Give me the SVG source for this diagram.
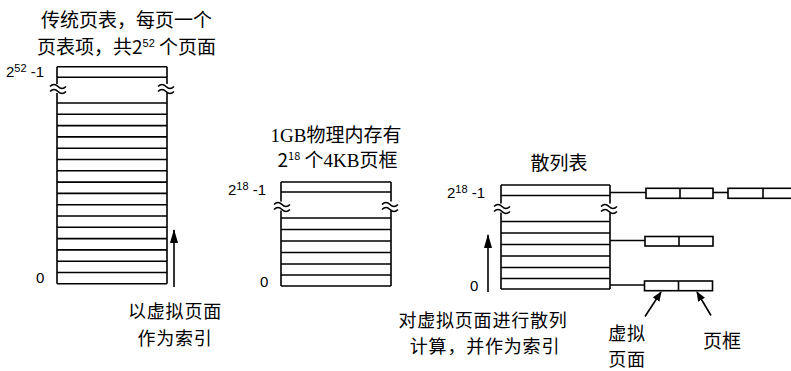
<svg xmlns="http://www.w3.org/2000/svg" xmlns:xlink="http://www.w3.org/1999/xlink" width="791" height="371" viewBox="0 0 791 371">
<style>
.ln{stroke:#000;stroke-width:1.6;fill:none}
.bx{stroke:#000;stroke-width:1.6;fill:#fff}
.cjk{font-family:"Noto Sans CJK SC","Noto Sans",sans-serif;font-size:19px;fill:#000}
.cjk2{font-family:"Noto Sans CJK SC","Noto Sans",sans-serif;font-size:18px;fill:#000;letter-spacing:0.8px}
.num{font-family:"Liberation Sans",Arial,sans-serif;font-size:15px;fill:#000}
.sup{font-size:11px}
</style>
<defs>
<g id="sq" class="ln">
<path d="M-8,-1.5 q4,-4 8,0 t8,0"/>
<path d="M-8,3.5 q4,-4 8,0 t8,0"/>
</g>
<marker id="ah" markerWidth="10" markerHeight="8" refX="9" refY="4" orient="auto" markerUnits="userSpaceOnUse">
<path d="M0,0 L10,4 L0,8 z" fill="#000"/>
</marker>
<marker id="ah2" markerWidth="14" markerHeight="8" refX="13" refY="4" orient="auto" markerUnits="userSpaceOnUse">
<path d="M0,0 L14,4 L0,8 z" fill="#000"/>
</marker>
</defs>
<rect width="791" height="371" fill="#fff"/>

<g id="pagetable">
<text class="cjk" x="126.5" y="27" text-anchor="middle">传统页表，每页一个</text>
<text class="cjk" x="126.5" y="54" text-anchor="middle">页表项，共2<tspan class="sup" dy="-7" font-family="Liberation Sans,sans-serif">52</tspan><tspan dy="7"> 个页面</tspan></text>
<text class="num" x="6" y="77">2<tspan class="sup" dy="-5">52</tspan><tspan dy="5"> -1</tspan></text>
<text class="num" x="36" y="283">0</text>
<path class="ln" d="M57,66.7 H167 M57,77.3 H167 M57,66.7 V84 M167,66.7 V84 M57,93 V283.8 M167,93 V283.8"/>
<path class="ln" d="M57,103 H167 M57,114.3 H167 M57,125.6 H167 M57,136.9 H167 M57,148.2 H167 M57,159.5 H167 M57,170.8 H167 M57,182.1 H167 M57,193.4 H167 M57,204.7 H167 M57,216 H167 M57,227.3 H167 M57,238.6 H167 M57,249.9 H167 M57,261.2 H167 M57,272.5 H167 M57,283.8 H167"/>
<use xlink:href="#sq" x="58" y="88"/>
<use xlink:href="#sq" x="166" y="88"/>
<text class="cjk2" text-anchor="middle"><tspan x="175" y="318">以虚拟页面</tspan><tspan x="175" y="344.5">作为索引</tspan></text>
</g>

<g id="physmem">
<text class="cjk" x="336" y="142" text-anchor="middle"><tspan font-family="Liberation Serif,serif">1GB</tspan>物理内存有</text>
<text class="cjk" x="337.5" y="167" text-anchor="middle">2<tspan class="sup" dy="-7">18</tspan><tspan dy="7"> 个</tspan><tspan font-family="Liberation Serif,serif">4KB</tspan>页框</text>
<text class="num" x="228" y="195">2<tspan class="sup" dy="-5">18</tspan><tspan dy="5"> -1</tspan></text>
<text class="num" x="260" y="287">0</text>
<path class="ln" d="M281,182 H391 M281,192 H391 M281,182 V201.5 M391,182 V201.5 M281,210.5 V286 M391,210.5 V286"/>
<path class="ln" d="M281,218 H391 M281,229.5 H391 M281,241 H391 M281,252.5 H391 M281,264 H391 M281,275 H391 M281,286 H391"/>
<use xlink:href="#sq" x="282" y="206"/>
<use xlink:href="#sq" x="390" y="206"/>
</g>

<g id="hashtable">
<text class="cjk" x="559" y="170" text-anchor="middle">散列表</text>
<text class="num" x="447" y="198">2<tspan class="sup" dy="-5">18</tspan><tspan dy="5"> -1</tspan></text>
<text class="num" x="470" y="291">0</text>
<path class="ln" d="M501,185 H610 M501,195.5 H610 M501,185 V203.5 M610,185 V203.5 M501,212.5 V289 M610,212.5 V289"/>
<path class="ln" d="M501,221.5 H610 M501,233 H610 M501,244.5 H610 M501,256 H610 M501,267.5 H610 M501,278.5 H610 M501,289 H610"/>
<use xlink:href="#sq" x="502" y="208"/>
<use xlink:href="#sq" x="609" y="208"/>
<text class="cjk2" text-anchor="middle"><tspan x="483" y="326.5">对虚拟页面进行散列</tspan><tspan x="485" y="353">计算，并作为索引</tspan></text>
</g>

<g id="chain1">
<rect class="bx" x="646" y="188.3" width="67" height="10"/>
<path class="ln" d="M680,188.3 V198.3"/>
<rect class="bx" x="728" y="188.3" width="70" height="10"/>
<path class="ln" d="M763,188.3 V198.3"/>
</g>
<g id="chain2">
<rect class="bx" x="645" y="236.5" width="68" height="9.5"/>
<path class="ln" d="M679,236.5 V246"/>
</g>
<g id="chain3">
<rect class="bx" x="644.5" y="281" width="68" height="9.7"/>
<path class="ln" d="M678.5,281 V290.7"/>
<text class="cjk2" text-anchor="middle"><tspan x="627" y="339.5">虚拟</tspan><tspan x="627" y="366">页面</tspan></text>
<text class="cjk" x="722" y="348" text-anchor="middle">页框</text>
</g>

<g id="connectors">
<path class="ln" d="M610,192.5 H646"/>
<path class="ln" d="M713,192.5 H728"/>
<path class="ln" d="M610,240.5 H645"/>
<path class="ln" d="M610,285 H644.5"/>
<path class="ln" d="M174,287 V230" marker-end="url(#ah2)"/>
<path class="ln" d="M488,292 V235" marker-end="url(#ah2)"/>
<path class="ln" d="M645,316.5 L661,292" marker-end="url(#ah)"/>
<path class="ln" d="M711,315.5 L697,292" marker-end="url(#ah)"/>
</g>
</svg>
